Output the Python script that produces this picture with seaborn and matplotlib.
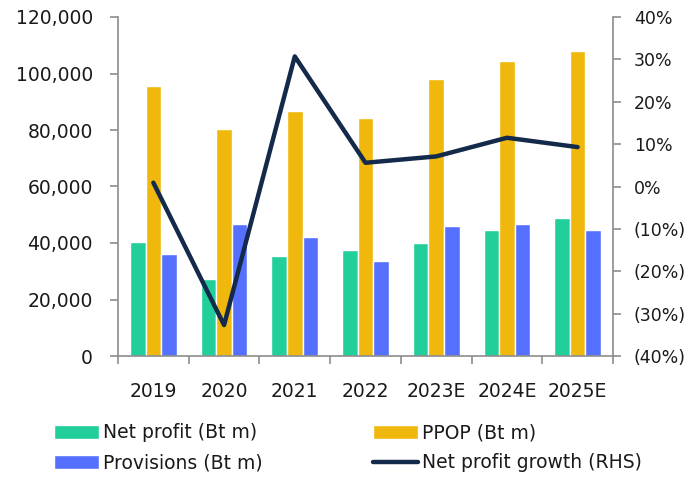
import matplotlib
matplotlib.use("Agg")
import matplotlib.pyplot as plt
import seaborn as sns
import pandas as pd
import numpy as np
from matplotlib.ticker import FuncFormatter, MultipleLocator, FixedLocator

years = ["2019", "2020", "2021", "2022", "2023E", "2024E", "2025E"]
net_profit = [40300, 27100, 35500, 37500, 40000, 44700, 48800]
ppop = [95500, 80300, 86600, 84400, 97900, 104600, 108000]
provisions = [36100, 46600, 42000, 33700, 46000, 46600, 44600]
growth = [0.9, -32.7, 30.7, 5.6, 7.1, 11.5, 9.3]

series_names = ["Net profit (Bt m)", "PPOP (Bt m)", "Provisions (Bt m)"]
line_name = "Net profit growth (RHS)"
colors = ["#22CE99", "#F0B80C", "#5570FF"]
line_color = "#142A4A"

sns.set_theme(style="white")
plt.rcParams['font.family'] = ['DejaVu Sans']
FS = 13.5
TXT = "#1a1a1a"

df = pd.DataFrame({
    "year": years * 3,
    "value": net_profit + ppop + provisions,
    "series": [series_names[0]] * 7 + [series_names[1]] * 7 + [series_names[2]] * 7,
})

fig = plt.figure(figsize=(6.91, 4.8), dpi=100)
ax = fig.add_axes([118/691, 1-356/480, (613-118)/691, (356-17)/480])
sns.barplot(data=df, x="year", y="value", hue="series", palette=colors,
            width=0.66, gap=0, ax=ax, saturation=1, legend=True)
handles, labels = ax.get_legend_handles_labels()
ax.get_legend().remove()

ax2 = ax.twinx()
sns.pointplot(x=years, y=growth, ax=ax2, color=line_color, markers="",
              linewidth=3.2)
line_handle = ax2.lines[0]

ax.set_xlim(-0.5, 6.5)
ax.set_ylim(0, 120000)
ax2.set_ylim(-40, 40)
ax.set_xlabel("")
ax.set_ylabel("")
ax2.set_ylabel("")

ax.yaxis.set_major_locator(MultipleLocator(20000))
ax.yaxis.set_major_formatter(FuncFormatter(lambda v, p: f"{int(v):,}"))
ax2.yaxis.set_major_locator(MultipleLocator(10))
ax2.yaxis.set_major_formatter(FuncFormatter(
    lambda v, p: f"{int(round(v))}%" if v >= 0 else f"({int(round(-v))}%)"))

spine_color = "#8c8c8c"
for a in (ax, ax2):
    for s in a.spines.values():
        s.set_color(spine_color)
        s.set_linewidth(1.2)
    a.spines["top"].set_visible(False)
ax.spines["right"].set_visible(False)
ax2.spines["left"].set_visible(False)
ax2.spines["bottom"].set_visible(False)

ax.tick_params(axis="y", which="major", direction="out", length=6, width=1.2,
               color=spine_color, labelsize=FS, labelcolor=TXT, pad=12, left=True)
ax2.tick_params(axis="y", which="major", direction="out", length=6, width=1.2,
                color=spine_color, labelsize=12.5, labelcolor=TXT, pad=9, right=True)
ax.set_xticks(range(len(years)))
ax.set_xticklabels(years)
ax.xaxis.set_minor_locator(FixedLocator(np.arange(-0.5, 7, 1)))
ax.tick_params(axis="x", which="major", length=0, labelsize=FS, labelcolor=TXT, pad=19)
ax.tick_params(axis="x", which="minor", direction="out", length=6, width=1.2,
               color=spine_color, bottom=True)
ax.grid(False)
ax2.grid(False)

leg_kw = dict(loc="center left", frameon=False, fontsize=FS,
              handlelength=2.4, handleheight=0.78, handletextpad=0.22,
              labelspacing=0.6, borderaxespad=0, borderpad=0, labelcolor=TXT)
yc = 1 - 447.75/480
fig.legend([handles[0], handles[2]], [series_names[0], series_names[2]],
           bbox_to_anchor=(54/691, yc), **leg_kw)
fig.legend([handles[1], line_handle], [series_names[1], line_name],
           bbox_to_anchor=(373/691, yc), **leg_kw)

fig.savefig("out.png", dpi=100)
